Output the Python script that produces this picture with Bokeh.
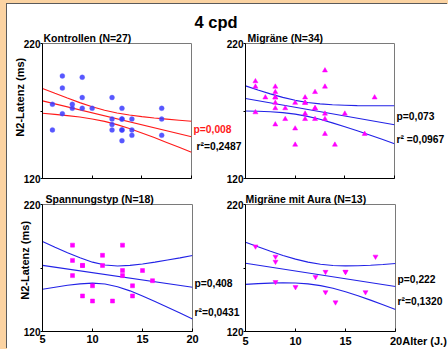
from bokeh.plotting import figure
from bokeh.layouts import row, column
from bokeh.models import Range1d, FixedTicker, Spacer, Title, LinearAxis
from bokeh.embed import file_html
from bokeh.resources import INLINE

# ---------------- data ----------------
x_ticks = [5, 10, 15, 20]
y_ticks = [120, 170, 220]
y_tick_labels = {120: "120", 170: "", 220: "220"}

ctrl_age = [6, 6, 7, 7, 7, 8, 8, 9, 9, 9, 10, 12, 12, 12, 12, 13, 13, 13, 13, 13, 13, 14, 14, 14, 17, 17, 17]
ctrl_n2 = [175, 156, 187, 196, 168, 175, 172, 195, 180, 172, 172, 180, 164, 160, 156, 172, 164, 164, 156, 156, 148,
           164, 156, 152, 172, 164, 152]

mig_age = [6, 6, 6, 7, 8, 8, 8, 8, 8, 8, 8, 9, 9, 10, 10, 10, 11, 11, 11, 11, 11, 12, 12, 12, 12,
           13, 13, 13, 13, 13, 14, 15, 17, 18]
mig_n2 = [192, 188, 169, 180, 188, 184, 180, 180, 176, 172, 160, 172, 164, 176, 157, 145, 180, 176, 176, 168, 164,
          184, 172, 172, 164, 200, 188, 168, 164, 153, 145, 168, 153, 180]

span_age = [8, 8, 8, 9, 9, 9, 10, 10, 11, 11, 12, 13, 13, 13, 14, 14, 15, 16]
span_n2 = [188, 176, 164, 172, 172, 148, 156, 144, 180, 172, 144, 188, 168, 164, 156, 148, 168, 160]

aura_age = [6, 8, 8, 8, 10, 12, 13, 13, 14, 15, 15, 17, 18]
aura_n2 = [187, 179, 175, 159, 155, 163, 167, 151, 143, 167, 167, 151, 179]

fit_x = [5, 20]
ctrl_fit = [177.5, 150.9]
mig_fit = [179.3, 159.8]
span_fit = [172.1, 154.8]
aura_fit = [173.7, 155.4]

band_x = [5, 6.25, 7.5, 8.75, 10, 11.25, 12.5, 13.75, 15, 16.25, 17.5, 18.75, 20]
ctrl_hi = [186.7, 183.1, 179.6, 176.2, 173.1, 170.5, 168.5, 167.0, 165.8, 164.8, 164.0, 163.2, 162.4]
ctrl_lo = [168.3, 167.5, 166.6, 165.5, 164.1, 162.3, 159.9, 157.0, 153.7, 150.3, 146.7, 143.1, 139.4]
mig_hi = [188.6, 185.6, 182.7, 180.1, 177.9, 176.3, 175.3, 174.6, 174.3, 174.0, 173.9, 173.9, 173.9]
mig_lo = [170.0, 169.8, 169.4, 168.8, 167.7, 166.0, 163.9, 161.2, 158.3, 155.3, 152.2, 149.0, 145.7]
span_hi = [190.9, 186.4, 182.0, 178.0, 174.6, 172.4, 171.6, 172.1, 173.2, 174.6, 176.3, 178.0, 179.8]
span_lo = [153.3, 154.9, 156.4, 157.5, 158.1, 157.4, 155.3, 152.0, 148.0, 143.6, 139.1, 134.5, 129.8]
aura_hi = [190.3, 186.7, 183.2, 179.9, 177.0, 174.6, 173.0, 172.0, 171.7, 171.8, 172.2, 172.8, 173.5]
aura_lo = [157.1, 157.7, 158.1, 158.4, 158.2, 157.5, 156.1, 154.0, 151.3, 148.1, 144.7, 141.1, 137.4]

titles = ["Kontrollen (N=27)", "Migräne (N=34)", "Spannungstyp (N=18)", "Migräne mit Aura (N=13)"]
p_texts = ["p=0,008", "p=0,073", "p=0,408", "p=0,222"]
r_texts = ["r²=0,2487", "r² =0,0967", "r²=0,0431", "r²=0,1320"]
main_title = "4 cpd"
y_title = "N2-Latenz (ms)"
x_title = "Alter (J.)"

FONT = "Liberation Sans"
RED = "#ff1a1a"
BLUE = "#2222e6"
MAG = "#ff00ff"
PEACH = "#FBD3A2"
NBSP = "\u00a0"


def base_fig(width, height, ml, mr, mt, mb, show_xlabels, transparent):
    p = figure(width=width, height=height, x_range=Range1d(5, 20), y_range=Range1d(120, 220),
               output_backend="svg", toolbar_location=None,
               min_border_left=ml, min_border_right=mr, min_border_top=mt, min_border_bottom=mb)
    try:
        p.title = None
    except Exception:
        p.title.text = ""
    p.xgrid.visible = False
    p.ygrid.visible = False
    p.outline_line_color = "#7a7a7a"
    p.background_fill_color = "white"
    p.border_fill_color = None if transparent else "white"
    xa = p.xaxis[0]
    ya = p.yaxis[0]
    xa.ticker = FixedTicker(ticks=x_ticks)
    xa.major_tick_in = 3
    xa.major_tick_out = 0
    xa.minor_tick_line_color = None
    xa.axis_line_color = "black"
    xa.major_tick_line_color = "black"
    if show_xlabels:
        xa.major_label_text_font = FONT
        xa.major_label_text_font_style = "bold"
        xa.major_label_text_font_size = "11px"
        xa.major_label_text_color = "black"
        xa.major_label_standoff = 3
    else:
        xa.major_label_overrides = {t: "" for t in x_ticks}
        xa.major_label_text_font_size = "0px"
        xa.major_label_standoff = 0
    ya.ticker = FixedTicker(ticks=y_ticks)
    ya.major_label_overrides = y_tick_labels
    ya.major_tick_in = 0
    ya.major_tick_out = 2
    ya.minor_tick_line_color = None
    ya.axis_line_color = "black"
    ya.major_tick_line_color = "black"
    ya.major_label_text_font = FONT
    ya.major_label_text_font_style = "bold"
    ya.major_label_text_font_size = "10px"
    ya.major_label_text_color = "black"
    ya.major_label_standoff = 0
    return p


def add_title(p, text, offset, size="10.5px", standoff=0):
    t = Title(text=text, align="left", offset=offset, standoff=standoff, text_font=FONT,
              text_font_style="bold", text_font_size=size, text_color="black")
    p.add_layout(t, "above")


def stat_axis(p, ticks, labels, color, standoff):
    ax = LinearAxis(ticker=FixedTicker(ticks=ticks),
                    major_label_overrides=dict(zip(ticks, labels)),
                    axis_line_color=None, major_tick_line_color=None, minor_tick_line_color=None,
                    major_tick_in=0, major_tick_out=0, major_label_standoff=standoff,
                    major_label_text_font=FONT, major_label_text_font_style="bold",
                    major_label_text_font_size="10.3px", major_label_text_color=color)
    p.add_layout(ax, "right")


def y_axis_title(p, pad, standoff):
    ya = p.yaxis[0]
    ya.axis_label = NBSP * pad + y_title
    ya.axis_label_text_font = FONT
    ya.axis_label_text_font_style = "bold"
    ya.axis_label_text_font_size = "11px"
    ya.axis_label_text_color = "black"
    ya.axis_label_standoff = standoff


# ---------------- panels ----------------
p1 = base_fig(238, 186, 35, 54, 39, 12, False, False)
p2 = base_fig(227, 186, 24, 54, 39, 12, False, True)
p3 = base_fig(238, 159, 35, 53, 12, 17, True, False)
p4 = base_fig(227, 159, 24, 53, 12, 17, True, True)
p2.margin = (0, 0, 0, -24)
p4.margin = (0, 0, 0, -24)

# panel titles (nearest the frame) and main title (outermost, above p1)
add_title(p1, titles[0], 1)
add_title(p1, main_title, 152, size="16.5px", standoff=-3)
add_title(p2, titles[1], 2)
add_title(p3, titles[2], 3)
add_title(p4, titles[3], 0)

# Kontrollen
p1.line(band_x, ctrl_hi, line_color=RED, line_width=1.1)
p1.line(band_x, ctrl_lo, line_color=RED, line_width=1.1)
p1.line(fit_x, ctrl_fit, line_color=RED, line_width=1.1)
p1.scatter(ctrl_age, ctrl_n2, marker="circle", size=5, fill_color="#3a3aff", fill_alpha=0.85,
           line_color="#6a6aff", line_alpha=0.6, line_width=0.5)

# Migräne
p2.line(band_x, mig_hi, line_color=BLUE, line_width=1.1)
p2.line(band_x, mig_lo, line_color=BLUE, line_width=1.1)
p2.line(fit_x, mig_fit, line_color=BLUE, line_width=1.1)
p2.scatter(mig_age, mig_n2, marker="triangle", size=5, fill_color=MAG, line_color=MAG, line_width=0.5)

# Spannungstyp
p3.line(band_x, span_hi, line_color=BLUE, line_width=1.1)
p3.line(band_x, span_lo, line_color=BLUE, line_width=1.1)
p3.line(fit_x, span_fit, line_color=BLUE, line_width=1.1)
p3.scatter(span_age, span_n2, marker="square", size=4, fill_color=MAG, line_color=MAG, line_width=0.5)

# Migräne mit Aura
p4.line(band_x, aura_hi, line_color=BLUE, line_width=1.1)
p4.line(band_x, aura_lo, line_color=BLUE, line_width=1.1)
p4.line(fit_x, aura_fit, line_color=BLUE, line_width=1.1)
p4.scatter(aura_age, aura_n2, marker="inverted_triangle", size=5, fill_color=MAG, line_color=MAG,
           line_width=0.5)

# ---------------- statistics texts (right-hand axes) ----------------
stat_axis(p1, [156], [p_texts[0]], RED, 2)
stat_axis(p1, [144], [r_texts[0]], "black", -38)
stat_axis(p2, [166, 149], [p_texts[1], r_texts[1]], "black", 2)
stat_axis(p3, [158, 135], [p_texts[2], r_texts[2]], "black", 2)
stat_axis(p4, [161, 144], [p_texts[3], r_texts[3]], "black", 2)

# ---------------- axis titles ----------------
y_axis_title(p1, 9, -5)
y_axis_title(p3, 5, -10)
p4.xaxis[0].major_label_overrides = {20: NBSP * 15 + "20" + x_title}

main = column(row(p1, p2), row(p3, p4),
              styles={"background-color": "white", "box-shadow": "-1px -1px 0 #5a5a5a"})
root = column(Spacer(width=448, height=4, styles={"background-color": PEACH}),
              row(Spacer(width=7, height=345, styles={"background-color": PEACH}), main),
              styles={"background-color": PEACH})

html = file_html(root, INLINE, title="4 cpd")
open("out.html", "w").write(html)
